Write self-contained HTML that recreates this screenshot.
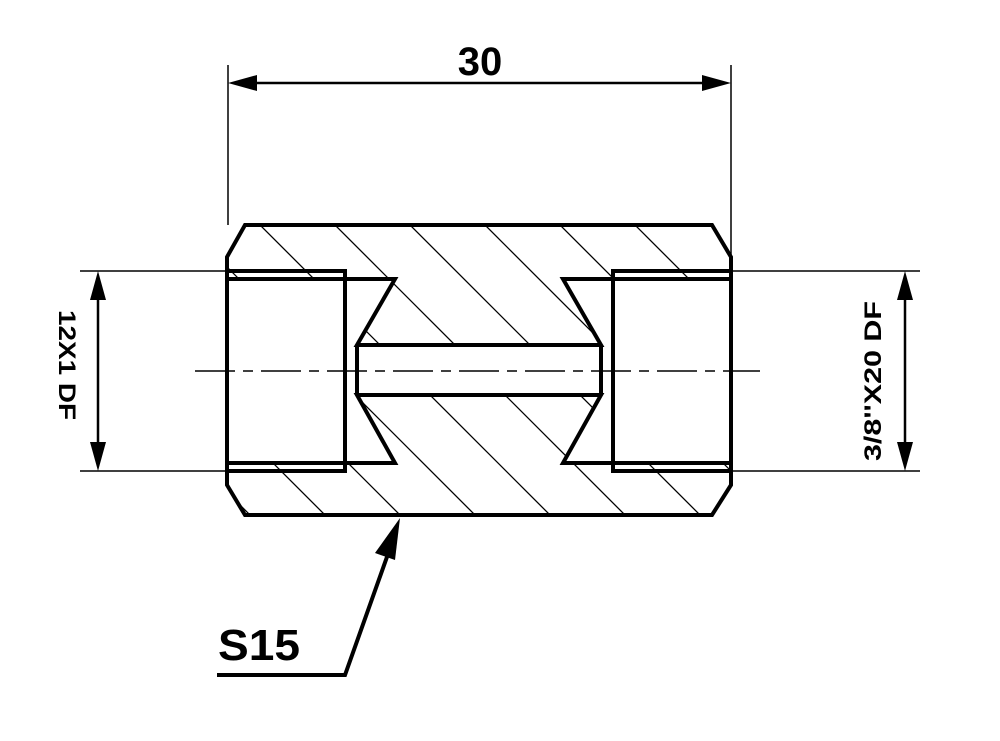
<!DOCTYPE html>
<html><head><meta charset="utf-8"><style>
html,body{margin:0;padding:0;background:#fff;}
svg{display:block;}
text{font-family:"Liberation Sans","DejaVu Sans",sans-serif;font-weight:bold;fill:#000;}
</style></head><body>
<svg width="1000" height="741" viewBox="0 0 1000 741" xmlns="http://www.w3.org/2000/svg">
<defs>
<clipPath id="body"><polygon points="245,225 712,225 731,257 731,485 712,515 245,515 227,485 227,257"/></clipPath>
</defs>
<g clip-path="url(#body)" stroke="#000" stroke-width="1.3">
<line x1="-65" y1="200" x2="275" y2="540"/>
<line x1="10" y1="200" x2="350" y2="540"/>
<line x1="85" y1="200" x2="425" y2="540"/>
<line x1="160" y1="200" x2="500" y2="540"/>
<line x1="235" y1="200" x2="575" y2="540"/>
<line x1="310" y1="200" x2="650" y2="540"/>
<line x1="385" y1="200" x2="725" y2="540"/>
<line x1="460" y1="200" x2="800" y2="540"/>
<line x1="535" y1="200" x2="875" y2="540"/>
<line x1="610" y1="200" x2="950" y2="540"/>
<line x1="685" y1="200" x2="1025" y2="540"/>
</g>
<polygon points="227,279 395,279 357,345 601,345 563,279 731,279 731,463 563,463 601,395 357,395 395,463 227,463" fill="#fff"/>
<g fill="none" stroke="#000" stroke-width="4" stroke-linejoin="miter">
<polygon points="245,225 712,225 731,257 731,485 712,515 245,515 227,485 227,257"/>
<polyline points="227,279 395,279 357,345 601,345 563,279 731,279"/>
<polyline points="227,463 395,463 357,395 601,395 563,463 731,463"/>
<line x1="357" y1="345" x2="357" y2="395"/>
<line x1="601" y1="345" x2="601" y2="395"/>
<line x1="227" y1="271" x2="345" y2="271"/>
<line x1="227" y1="471" x2="345" y2="471"/>
<line x1="345" y1="269" x2="345" y2="473"/>
<line x1="613" y1="271" x2="731" y2="271"/>
<line x1="613" y1="471" x2="731" y2="471"/>
<line x1="613" y1="269" x2="613" y2="473"/>
<polyline points="217,675 345,675 393,540"/>
</g>
<g stroke="#000" stroke-width="1.5" fill="none">
<line x1="195" y1="371" x2="760" y2="371" stroke-dasharray="40,8,10,8"/>
<line x1="80" y1="271" x2="227" y2="271"/>
<line x1="80" y1="471" x2="227" y2="471"/>
<line x1="731" y1="271" x2="920" y2="271"/>
<line x1="731" y1="471" x2="920" y2="471"/>
<line x1="228" y1="65" x2="228" y2="225"/>
<line x1="731" y1="65" x2="731" y2="257"/>
</g>
<g stroke="#000" stroke-width="2.5">
<line x1="98" y1="290" x2="98" y2="452"/>
<line x1="905" y1="290" x2="905" y2="452"/>
<line x1="250" y1="83" x2="710" y2="83"/>
</g>
<g fill="#000">
<polygon points="98,271 90,300 106,300"/>
<polygon points="98,471 90,442 106,442"/>
<polygon points="905,271 897,300 913,300"/>
<polygon points="905,471 897,442 913,442"/>
<polygon points="228,83 257,75 257,91"/>
<polygon points="731,83 702,75 702,91"/>
<polygon points="400,518 375,553 395,560"/>
</g>
<text x="480" y="75" font-size="40" text-anchor="middle">30</text>
<text x="218" y="660" font-size="44" textLength="82" lengthAdjust="spacingAndGlyphs">S15</text>
<text transform="translate(59,365) rotate(90)" font-size="24" text-anchor="middle" textLength="110" lengthAdjust="spacingAndGlyphs">12X1 DF</text>
<text transform="translate(881,381) rotate(-90)" font-size="24" text-anchor="middle" textLength="160" lengthAdjust="spacingAndGlyphs">3/8''X20 DF</text>
</svg>
</body></html>
